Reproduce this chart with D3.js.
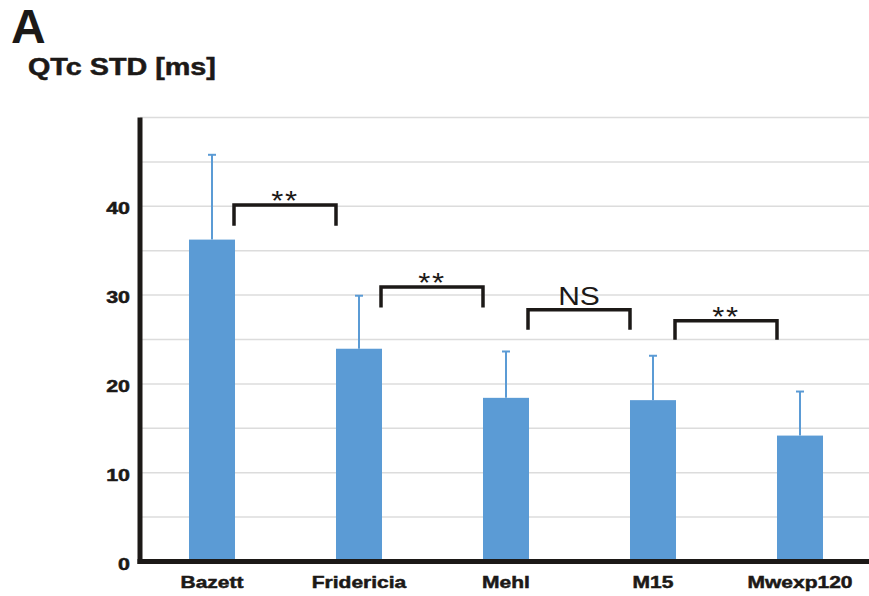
<!DOCTYPE html>
<html>
<head>
<meta charset="utf-8">
<script src="https://cdn.jsdelivr.net/npm/d3@7"></script>
<style>
html,body{margin:0;padding:0;background:#fff;}
svg{display:block;}
</style>
</head>
<body>
<svg id="chart" width="869" height="596"></svg>
<script>
// ---- data ----
const categories = ["Bazett", "Fridericia", "Mehl", "M15", "Mwexp120"];
const means = [36.25, 23.96, 18.43, 18.17, 14.18];
const errors = [9.55, 5.97, 5.22, 5.0, 4.96];
const yTicks = [0, 10, 20, 30, 40];
const gridValues = [5, 10, 15, 20, 25, 30, 35, 40, 45, 50];
const bracketFrom = [0, 1, 2, 3];
const bracketTo = [1, 2, 3, 4];
const bracketTop = [40.16, 30.9, 28.35, 27.1];
const bracketBottom = [37.8, 28.6, 26.1, 24.97];
const bracketLabels = ["**", "**", "NS", "**"];
const panelLabel = "A";
const yTitle = "QTc STD [ms]";

// ---- layout ----
const svg = d3.select("#chart");
const W = 869;
const x = d3.scaleBand().domain(categories).range([138.5, 873.5]).paddingInner(0.687).paddingOuter(0.3435);
const y = d3.scaleLinear().domain([0, 50]).range([561.5, 117.5]);
const barColor = "#5b9bd5";
const inkColor = "#1c1917";
const stretch = 1.25;
const fontFam = "Liberation Sans, Arial, sans-serif";

// gridlines
svg.append("g").selectAll("line").data(gridValues).join("line")
  .attr("x1", 140).attr("x2", W)
  .attr("y1", d => y(d)).attr("y2", d => y(d))
  .attr("stroke", "#dcdcdc").attr("stroke-width", 1.5);

// bars
svg.append("g").selectAll("rect").data(categories).join("rect")
  .attr("x", d => x(d))
  .attr("width", x.bandwidth())
  .attr("y", (d, i) => y(means[i]))
  .attr("height", (d, i) => y(0) - y(means[i]))
  .attr("fill", barColor);

// error bars
const eb = svg.append("g").attr("stroke", barColor).attr("stroke-width", 2);
categories.forEach((c, i) => {
  const cx = x(c) + x.bandwidth() / 2;
  eb.append("line").attr("x1", cx).attr("x2", cx)
    .attr("y1", y(means[i])).attr("y2", y(means[i] + errors[i]));
  eb.append("line").attr("x1", cx - 4).attr("x2", cx + 4)
    .attr("y1", y(means[i] + errors[i])).attr("y2", y(means[i] + errors[i]));
});

// axes lines
svg.append("line").attr("x1", 140).attr("x2", 140).attr("y1", y(50)).attr("y2", y(0) + 2.5)
  .attr("stroke", inkColor).attr("stroke-width", 5);
svg.append("line").attr("x1", 137.5).attr("x2", W).attr("y1", y(0)).attr("y2", y(0))
  .attr("stroke", inkColor).attr("stroke-width", 5);

// y tick labels
svg.append("g").selectAll("text").data(yTicks).join("text")
  .attr("transform", d => `translate(130,${y(d) + 8}) scale(1.3,1)`)
  .attr("text-anchor", "end")
  .attr("font-family", fontFam)
  .attr("font-weight", "bold").attr("font-size", 16.5)
  .attr("fill", inkColor).attr("stroke", inkColor).attr("stroke-width", 0.5)
  .text(d => d);

// x labels
svg.append("g").selectAll("text").data(categories).join("text")
  .attr("transform", d => `translate(${x(d) + x.bandwidth() / 2},588) scale(${stretch},1)`)
  .attr("text-anchor", "middle")
  .attr("font-family", fontFam)
  .attr("font-weight", "bold").attr("font-size", 16.8)
  .attr("fill", inkColor).attr("stroke", inkColor).attr("stroke-width", 0.5)
  .text(d => d);

// brackets
const br = svg.append("g");
bracketFrom.forEach((f, k) => {
  const x1 = x(categories[f]) + x.bandwidth() - 1;
  const x2 = x(categories[bracketTo[k]]);
  const yt = y(bracketTop[k]), yb = y(bracketBottom[k]);
  br.append("path")
    .attr("d", `M${x1},${yb}V${yt}H${x2}V${yb}`)
    .attr("fill", "none").attr("stroke", inkColor)
    .attr("stroke-width", 3.5).attr("stroke-linejoin", "miter");
  const isNS = bracketLabels[k] === "NS";
  br.append("text")
    .attr("transform", `translate(${(x1 + x2) / 2},${isNS ? yt - 5 : yt + 5}) scale(${isNS ? 1.2 : 1.15},1)`)
    .attr("text-anchor", "middle")
    .attr("font-family", fontFam)
    .attr("font-size", isNS ? 25 : 27)
    .attr("letter-spacing", isNS ? 0 : 1.5)
    .attr("fill", inkColor)
    .text(bracketLabels[k]);
});

// panel label & axis title
svg.append("text").attr("x", 11).attr("y", 43)
  .attr("font-family", fontFam)
  .attr("font-weight", "bold").attr("font-size", 48)
  .attr("fill", inkColor).text(panelLabel);
svg.append("text").attr("transform", "translate(28,75) scale(1.25,1)")
  .attr("font-family", fontFam)
  .attr("font-weight", "bold").attr("font-size", 23)
  .attr("fill", inkColor).attr("stroke", inkColor).attr("stroke-width", 0.5)
  .text(yTitle);
</script>
</body>
</html>
